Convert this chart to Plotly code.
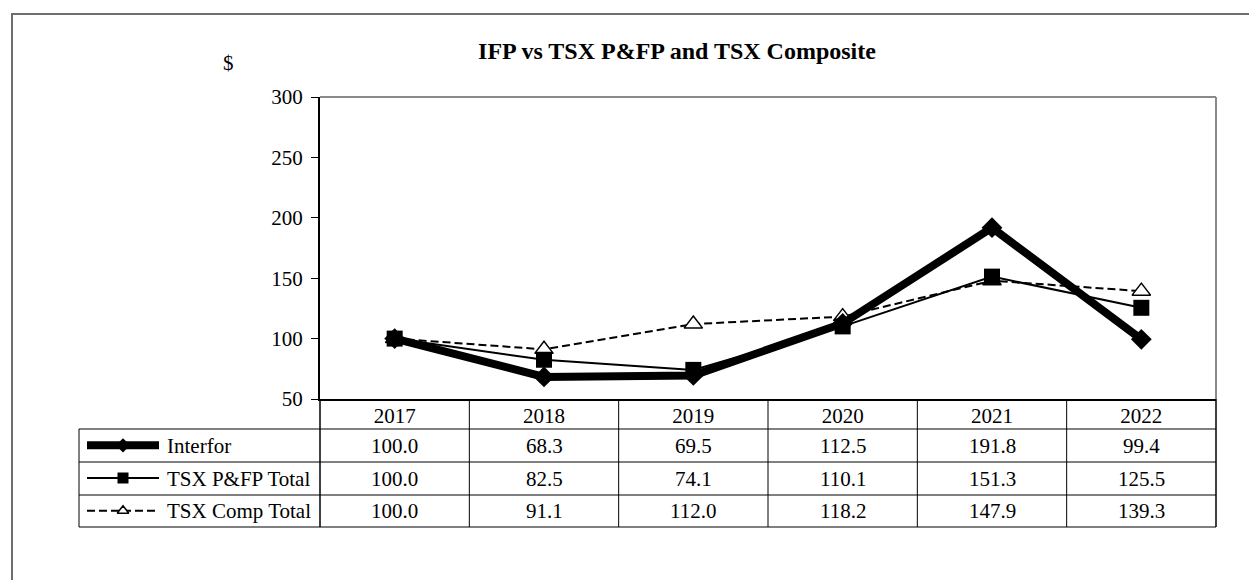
import plotly.graph_objects as go

years = ["2017", "2018", "2019", "2020", "2021", "2022"]
series_names = ["Interfor", "TSX P&FP Total", "TSX Comp Total"]
interfor = [100.0, 68.3, 69.5, 112.5, 191.8, 99.4]
tsx_pfp = [100.0, 82.5, 74.1, 110.1, 151.3, 125.5]
tsx_comp = [100.0, 91.1, 112.0, 118.2, 147.9, 139.3]
y_ticks = [50, 100, 150, 200, 250, 300]
title_text = "IFP vs TSX P&FP and TSX Composite"
y_unit = "$"

W, H = 1249, 580
FONT = "Liberation Serif"
FS = 21


def px(x):
    return x / W


def py(y):
    return 1 - y / H


# layout geometry (pixels)
PLOT_L, PLOT_R, PLOT_T, PLOT_B = 320, 1216, 97, 399
TABLE_L = 79
ROW_EDGES = [399, 429, 462, 495, 527]  # header row, then one row per series
SAMPLE_L, SAMPLE_R = 87, 159
LABEL_X = 165

styles = {
    "Interfor": dict(line=dict(color="black", width=8), symbol="diamond", msize=16,
                     mcolor="black", mline=0, sample_w=8, sample_ms=11),
    "TSX P&FP Total": dict(line=dict(color="black", width=2), symbol="square", msize=16,
                           mcolor="black", mline=0, sample_w=2, sample_ms=11),
    "TSX Comp Total": dict(line=dict(color="black", width=2, dash="8px,4px"), symbol="triangle-up",
                           msize=16, mcolor="white", mline=1.5, sample_w=2, sample_ms=10),
}
values = {"Interfor": interfor, "TSX P&FP Total": tsx_pfp, "TSX Comp Total": tsx_comp}

fig = go.Figure()

draw_order = ["TSX Comp Total", "Interfor", "TSX P&FP Total"]
for name in draw_order:
    st = styles[name]
    fig.add_trace(go.Scatter(
        x=years, y=values[name], mode="lines+markers", name=name,
        line=st["line"],
        marker=dict(symbol=st["symbol"], size=st["msize"], color=st["mcolor"], opacity=1,
                    line=dict(color="black", width=st["mline"])),
        xaxis="x", yaxis="y", showlegend=False, cliponaxis=False,
    ))

# legend samples in the table's label column (own small axes)
for i, name in enumerate(series_names):
    st = styles[name]
    ln = dict(st["line"])
    ln["width"] = st["sample_w"]
    fig.add_trace(go.Scatter(
        x=[0, 0.5, 1], y=[i, i, i], mode="lines+markers",
        line=ln,
        marker=dict(symbol=st["symbol"], size=[0, st["sample_ms"], 0], color=st["mcolor"], opacity=1,
                    line=dict(color="black", width=1.5 if st["mcolor"] == "white" else 0)),
        xaxis="x2", yaxis="y2", showlegend=False, cliponaxis=False, hoverinfo="skip",
    ))

shapes = []
# outer frame
shapes.append(dict(type="rect", xref="paper", yref="paper", x0=px(12), x1=px(1262),
                   y0=py(600), y1=py(14), line=dict(color="#6e6e6e", width=2), layer="below"))
# grey top/right border of plot area
shapes.append(dict(type="line", xref="x domain", yref="y domain", x0=0, x1=1, y0=1, y1=1,
                   line=dict(color="#8a8a8a", width=2)))
shapes.append(dict(type="line", xref="x domain", yref="y domain", x0=1, x1=1, y0=0, y1=1,
                   line=dict(color="#8a8a8a", width=2)))
# table horizontal lines
for yy in ROW_EDGES[1:]:
    shapes.append(dict(type="line", xref="paper", yref="paper", x0=px(TABLE_L), x1=px(PLOT_R),
                       y0=py(yy), y1=py(yy), line=dict(color="black", width=1)))
# table vertical lines
shapes.append(dict(type="line", xref="paper", yref="paper", x0=px(TABLE_L), x1=px(TABLE_L),
                   y0=py(ROW_EDGES[1]), y1=py(ROW_EDGES[-1]), line=dict(color="black", width=1)))
for k in range(len(years) + 1):
    xv = k - 0.5
    if k == 0 or k == len(years):
        shapes.append(dict(type="line", xref="x domain", yref="paper", x0=k / len(years), x1=k / len(years),
                           y0=py(ROW_EDGES[0]), y1=py(ROW_EDGES[-1]), line=dict(color="black", width=1.5)))
    else:
        shapes.append(dict(type="line", xref="x", yref="paper", x0=xv, x1=xv,
                           y0=py(ROW_EDGES[0]), y1=py(ROW_EDGES[-1]), line=dict(color="black", width=1)))

annotations = []
annotations.append(dict(text=y_unit, xref="paper", yref="paper", x=px(228), y=py(63),
                        xanchor="center", yanchor="middle",
                        showarrow=False, font=dict(size=FS, color="black", family=FONT)))
for i, name in enumerate(series_names):
    yc = (ROW_EDGES[i + 1] + ROW_EDGES[i + 2]) / 2
    annotations.append(dict(text=name, xref="paper", yref="paper", x=px(LABEL_X), y=py(yc),
                            xanchor="left", yanchor="middle", showarrow=False,
                            font=dict(size=FS, color="black", family=FONT)))
    for j, v in enumerate(values[name]):
        annotations.append(dict(text=f"{v:.1f}", xref="x", yref="paper", x=j, y=py(yc),
                                xanchor="center", yanchor="middle", showarrow=False,
                                font=dict(size=FS, color="black", family=FONT)))

fig.update_layout(
    width=W, height=H,
    margin=dict(l=0, r=0, t=0, b=0, autoexpand=False),
    paper_bgcolor="white", plot_bgcolor="white",
    font=dict(family=FONT, size=FS, color="black"),
    title=dict(text=f"<b>{title_text}</b>", x=px(677), y=py(51), xanchor="center", yanchor="middle",
               font=dict(size=24, color="black", family=FONT)),
    xaxis=dict(type="category", domain=[px(PLOT_L), px(PLOT_R)], range=[-0.5, len(years) - 0.5],
               showline=True, linecolor="black", linewidth=2, ticks="", showgrid=False,
               zeroline=False, tickfont=dict(size=FS, color="black"), automargin=False,
               ticklabelstandoff=-3),
    yaxis=dict(domain=[py(PLOT_B), py(PLOT_T)], range=[50, 300], tickvals=y_ticks,
               showline=True, linecolor="black", linewidth=2, ticks="outside", ticklen=7,
               tickcolor="black", tickwidth=1, showgrid=False, zeroline=False,
               tickfont=dict(size=FS, color="black"), automargin=False, ticklabelstandoff=4),
    xaxis2=dict(domain=[px(SAMPLE_L), px(SAMPLE_R)], range=[0, 1], visible=False, anchor="y2",
                automargin=False),
    yaxis2=dict(domain=[py(ROW_EDGES[-1]), py(ROW_EDGES[1])], range=[2.5, -0.5], visible=False,
                anchor="x2", automargin=False),
    shapes=shapes,
    annotations=annotations,
)

fig.write_html("out.html", config={"displayModeBar": False},
               post_script="document.body.style.margin='0px';")
